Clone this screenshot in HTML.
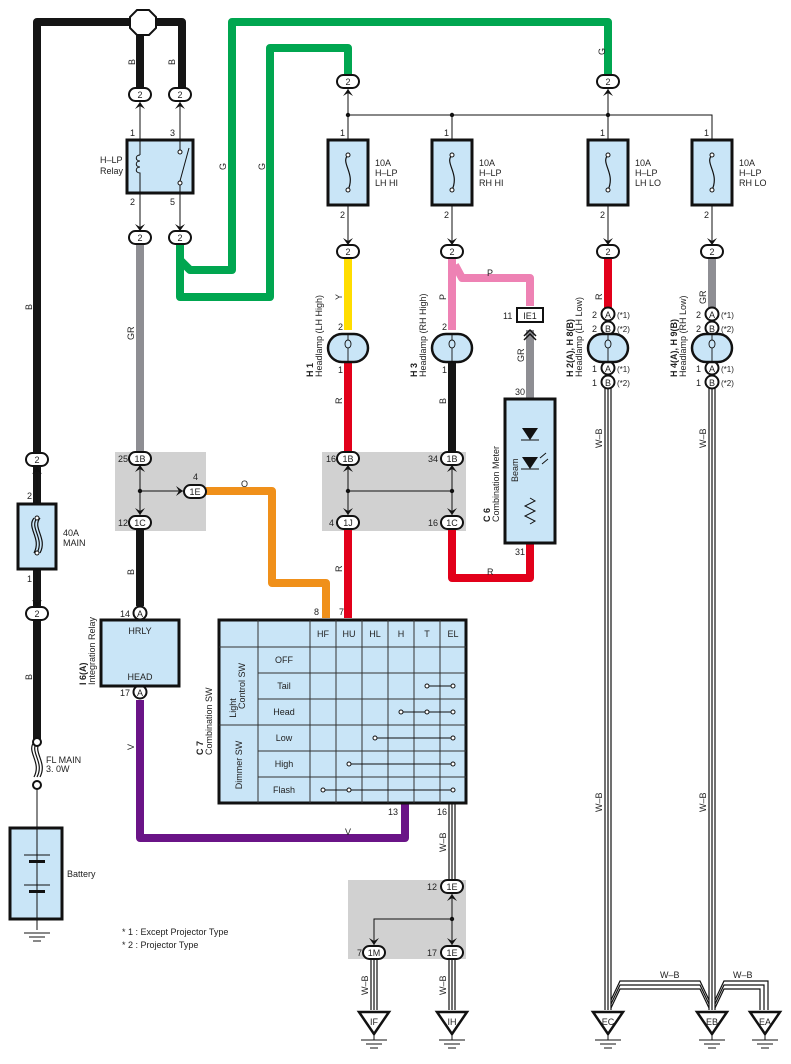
<!DOCTYPE html>
<html><head><meta charset="utf-8"><style>
html,body{margin:0;padding:0;background:#fff}
svg{display:block;font-family:"Liberation Sans",sans-serif}
text{font-size:9px;fill:#222}
.p{fill:#fff;stroke:#111;stroke-width:2}
.bx{fill:#c9e5f7;stroke:#111;stroke-width:3}
.t{fill:none;stroke:#111;stroke-width:1}
.g{fill:#d1d1d1}
</style></head><body>
<svg width="791" height="1064" viewBox="0 0 791 1064" xmlns="http://www.w3.org/2000/svg">
<!-- gray junction boxes -->
<rect class="g" x="115" y="452" width="91" height="79"/>
<rect class="g" x="322" y="452" width="144" height="79"/>
<rect class="g" x="348" y="880" width="118" height="79"/>

<!-- thick wires -->
<g fill="none" stroke-linejoin="round" stroke-width="8">
<path d="M37 740 V22 H182 V88" stroke="#151515"/>
<path d="M140 22 V88" stroke="#151515"/>
<path d="M180 245 V260 L190 270 H232 V22 H608 V75" stroke="#00a650"/>
<path d="M180 260 V297 H270 V48 H348 V75" stroke="#00a650"/>
<path d="M140 245 V452" stroke="#8e8e93"/>
<path d="M140 530 V606" stroke="#151515"/>
<path d="M206 491 H272 V583 H326 V618" stroke="#f0901a"/>
<path d="M348 258 V330" stroke="#ffdd00"/>
<path d="M348 362 V452 M348 530 V618" stroke="#e2001a"/>
<path d="M452 258 V330" stroke="#ee82b4"/>
<path d="M455 265 L462 278 H530 V306" stroke="#ee82b4"/>
<path d="M452 362 V452" stroke="#151515"/>
<path d="M530 330 V398" stroke="#8e8e93"/>
<path d="M530 543 V578 H452 V530" stroke="#e2001a"/>
<path d="M608 258 V308" stroke="#e2001a"/>
<path d="M712 258 V308" stroke="#8e8e93"/>
<path d="M140 700 V838 H405 V803" stroke="#6a1487"/>
<path d="M37 620 V740" stroke="#151515"/>
</g>

<!-- W-B triple wires -->
<g fill="none" stroke="#111" stroke-width="1.2">
<path d="M605 388 V1010 M608 388 V1010 M611 388 V1010"/>
<path d="M709 388 V1010 M712 388 V1010 M715 388 V1010"/>
<path d="M449 803 V880 M452 803 V880 M455 803 V880"/>
<path d="M371 959 V1010 M374 959 V1010 M377 959 V1010"/>
<path d="M449 959 V1010 M452 959 V1010 M455 959 V1010"/>
<path d="M611 1000 L620 981 H700 L709 1000"/>
<path d="M611 1004 L620 985 H700 L709 1004"/>
<path d="M611 1008 L620 989 H700 L709 1008"/>
<path d="M715 1000 L724 981 H768 V1010"/>
<path d="M715 1004 L724 985 H764 V1010"/>
<path d="M715 1008 L724 989 H760 V1010"/>
</g>

<!-- thin lines -->
<g class="t">
<path d="M140 100 V238 M180 100 V238"/>
<path d="M348 88 V245 M348 115 H712 V245 M452 115 V245 M608 88 V245"/>
<path d="M37 466 V608"/>
<path d="M140 464 V516 M140 491 H188"/>
<path d="M348 464 V516 M452 464 V516 M348 491 H452"/>
<path d="M452 893 V946 M452 919 H374 V946"/>
<path d="M37 785 V827"/>
<path d="M530 400 V541"/>
</g>
<g fill="#111">
<circle cx="348" cy="115" r="2.2"/><circle cx="608" cy="115" r="2.2"/><circle cx="452" cy="115" r="2.2"/>
<circle cx="140" cy="491" r="2.2"/><circle cx="348" cy="491" r="2.2"/><circle cx="452" cy="491" r="2.2"/><circle cx="452" cy="919" r="2.2"/>
<!-- chevrons up -->
<path d="M140 102 l5 7 -5 -3 -5 3z M180 102 l5 7 -5 -3 -5 3z M348 89 l5 7 -5 -3 -5 3z M608 89 l5 7 -5 -3 -5 3z M37 467 l5 7 -5 -3 -5 3z M140 465 l5 7 -5 -3 -5 3z M348 465 l5 7 -5 -3 -5 3z M452 465 l5 7 -5 -3 -5 3z M452 894 l5 7 -5 -3 -5 3z"/>
<!-- chevrons down -->
<path d="M140 231 l5 -7 -5 3 -5 -3z M180 231 l5 -7 -5 3 -5 -3z M348 245 l5 -7 -5 3 -5 -3z M452 245 l5 -7 -5 3 -5 -3z M608 245 l5 -7 -5 3 -5 -3z M712 245 l5 -7 -5 3 -5 -3z M37 607 l5 -7 -5 3 -5 -3z M140 515 l5 -7 -5 3 -5 -3z M348 515 l5 -7 -5 3 -5 -3z M452 515 l5 -7 -5 3 -5 -3z M374 945 l5 -7 -5 3 -5 -3z M452 945 l5 -7 -5 3 -5 -3z"/>
<path d="M183 491 l-7 5 3 -5 -3 -5z"/>
</g>
<path d="M524 336 l6 -6 6 6 M524 340 l6 -6 6 6" fill="none" stroke="#111" stroke-width="1.5"/>

<!-- octagon -->
<polygon points="137,10 149,10 156,17 156,28 149,35 137,35 130,28 130,17" fill="#fff" stroke="#111" stroke-width="2"/>

<!-- pill connectors -->
<g class="p">
<rect x="129" y="88" width="22" height="13" rx="6.5"/><rect x="169" y="88" width="22" height="13" rx="6.5"/>
<rect x="337" y="75" width="22" height="13" rx="6.5"/><rect x="597" y="75" width="22" height="13" rx="6.5"/>
<rect x="129" y="231" width="22" height="13" rx="6.5"/><rect x="169" y="231" width="22" height="13" rx="6.5"/>
<rect x="337" y="245" width="22" height="13" rx="6.5"/><rect x="441" y="245" width="22" height="13" rx="6.5"/>
<rect x="597" y="245" width="22" height="13" rx="6.5"/><rect x="701" y="245" width="22" height="13" rx="6.5"/>
<rect x="26" y="453" width="22" height="13" rx="6.5"/><rect x="26" y="607" width="22" height="13" rx="6.5"/>
<rect x="129" y="452" width="22" height="13" rx="6.5"/><rect x="129" y="516" width="22" height="13" rx="6.5"/>
<rect x="184" y="485" width="22" height="13" rx="6.5"/>
<rect x="337" y="452" width="22" height="13" rx="6.5"/><rect x="441" y="452" width="22" height="13" rx="6.5"/>
<rect x="337" y="516" width="22" height="13" rx="6.5"/><rect x="441" y="516" width="22" height="13" rx="6.5"/>
<rect x="441" y="880" width="22" height="13" rx="6.5"/><rect x="441" y="946" width="22" height="13" rx="6.5"/>
<rect x="363" y="946" width="22" height="13" rx="6.5"/>
<circle cx="140" cy="613" r="6.5"/><circle cx="140" cy="692" r="6.5"/>
<circle cx="608" cy="314" r="6.5"/><circle cx="608" cy="328" r="6.5"/><circle cx="608" cy="368" r="6.5"/><circle cx="608" cy="382" r="6.5"/>
<circle cx="712" cy="314" r="6.5"/><circle cx="712" cy="328" r="6.5"/><circle cx="712" cy="368" r="6.5"/><circle cx="712" cy="382" r="6.5"/>
</g>
<rect x="517" y="308" width="26" height="14" fill="#fff" stroke="#111" stroke-width="2"/>
<g text-anchor="middle" style="font-size:10px">
<text x="140" y="98">2</text><text x="180" y="98">2</text><text x="348" y="85">2</text><text x="608" y="85">2</text>
<text x="140" y="241">2</text><text x="180" y="241">2</text><text x="348" y="255">2</text><text x="452" y="255">2</text>
<text x="608" y="255">2</text><text x="712" y="255">2</text><text x="37" y="463">2</text><text x="37" y="617">2</text>
<text x="140" y="462">1B</text><text x="140" y="526">1C</text><text x="195" y="495">1E</text>
<text x="348" y="462">1B</text><text x="452" y="462">1B</text><text x="348" y="526">1J</text><text x="452" y="526">1C</text>
<text x="452" y="890">1E</text><text x="452" y="956">1E</text><text x="374" y="956">1M</text>
<text x="140" y="617">A</text><text x="140" y="696">A</text>
<text x="608" y="318">A</text><text x="608" y="332">B</text><text x="608" y="372">A</text><text x="608" y="386">B</text>
<text x="712" y="318">A</text><text x="712" y="332">B</text><text x="712" y="372">A</text><text x="712" y="386">B</text>
<text x="530" y="319">IE1</text>
</g>

<!-- relay -->
<rect class="bx" x="127" y="140" width="66" height="53"/>
<path d="M140 140 V155 M140 178 V193 M180 140 V150 M180 183 V193" class="t"/>
<path d="M140 155 c-5 0 -5 6 0 6 c-5 0 -5 6 0 6 c-5 0 -5 6 0 6 v5" fill="none" stroke="#111"/>
<circle cx="180" cy="152" r="2" fill="#fff" stroke="#111"/><circle cx="180" cy="183" r="2" fill="#fff" stroke="#111"/>
<path d="M180 181 L189 148" class="t"/>
<text x="100" y="163">H–LP</text><text x="100" y="174">Relay</text>
<text x="130" y="136">1</text><text x="170" y="136">3</text><text x="130" y="205">2</text><text x="170" y="205">5</text>

<!-- fuses -->
<g>
<rect class="bx" x="328" y="140" width="40" height="65"/>
<rect class="bx" x="432" y="140" width="40" height="65"/>
<rect class="bx" x="588" y="140" width="40" height="65"/>
<rect class="bx" x="692" y="140" width="40" height="65"/>
<rect class="bx" x="18" y="504" width="38" height="65"/>
</g>
<g fill="none" stroke="#111" stroke-width="1.2">
<path d="M348 155 c-8 8 8 18 0 35 M452 155 c-8 8 8 18 0 35 M608 155 c-8 8 8 18 0 35 M712 155 c-8 8 8 18 0 35"/>
<path d="M37 518 c-8 10 8 20 0 35 M34 518 c-8 10 8 20 0 35 M40 518 c-8 10 8 20 0 35"/>
<path d="M37 742 c-8 10 8 20 0 35 M34 742 c-8 10 8 20 0 35 M40 742 c-8 10 8 20 0 35"/>
</g>
<g fill="#fff" stroke="#111">
<circle cx="348" cy="155" r="2"/><circle cx="348" cy="190" r="2"/><circle cx="452" cy="155" r="2"/><circle cx="452" cy="190" r="2"/>
<circle cx="608" cy="155" r="2"/><circle cx="608" cy="190" r="2"/><circle cx="712" cy="155" r="2"/><circle cx="712" cy="190" r="2"/>
<circle cx="37" cy="518" r="2"/><circle cx="37" cy="553" r="2"/>
<circle cx="37" cy="742" r="4" stroke-width="2"/><circle cx="37" cy="785" r="4" stroke-width="2"/>
</g>
<g>
<text x="340" y="136">1</text><text x="340" y="218">2</text><text x="444" y="136">1</text><text x="444" y="218">2</text>
<text x="600" y="136">1</text><text x="600" y="218">2</text><text x="704" y="136">1</text><text x="704" y="218">2</text>
<text x="375" y="166">10A</text><text x="375" y="176">H–LP</text><text x="375" y="186">LH HI</text>
<text x="479" y="166">10A</text><text x="479" y="176">H–LP</text><text x="479" y="186">RH HI</text>
<text x="635" y="166">10A</text><text x="635" y="176">H–LP</text><text x="635" y="186">LH LO</text>
<text x="739" y="166">10A</text><text x="739" y="176">H–LP</text><text x="739" y="186">RH LO</text>
<text x="63" y="536">40A</text><text x="63" y="546">MAIN</text>
<text x="27" y="499">2</text><text x="27" y="582">1</text>
<text x="46" y="763">FL MAIN</text><text x="46" y="772">3. 0W</text>
</g>

<!-- headlamps -->
<g class="bx" style="stroke-width:2.5">
<rect x="328" y="334" width="40" height="28" rx="14"/><rect x="432" y="334" width="40" height="28" rx="14"/>
<rect x="588" y="334" width="40" height="28" rx="14"/><rect x="692" y="334" width="40" height="28" rx="14"/>
</g>
<g fill="none" stroke="#111" stroke-width="0.9">
<path d="M348 334 v6 c-4 0 -4 8 0 8 c4 0 4 -8 0 -8 M348 348 v14"/>
<path d="M452 334 v6 c-4 0 -4 8 0 8 c4 0 4 -8 0 -8 M452 348 v14"/>
<path d="M608 334 v6 c-4 0 -4 8 0 8 c4 0 4 -8 0 -8 M608 348 v14"/>
<path d="M712 334 v6 c-4 0 -4 8 0 8 c4 0 4 -8 0 -8 M712 348 v14"/>
</g>
<g>
<text x="338" y="330">2</text><text x="338" y="373">1</text><text x="442" y="330">2</text><text x="442" y="373">1</text>
<text x="592" y="318">2</text><text x="592" y="332">2</text><text x="592" y="372">1</text><text x="592" y="386">1</text>
<text x="696" y="318">2</text><text x="696" y="332">2</text><text x="696" y="372">1</text><text x="696" y="386">1</text>
<text x="617" y="318" style="font-size:8px">(*1)</text><text x="617" y="332" style="font-size:8px">(*2)</text>
<text x="617" y="372" style="font-size:8px">(*1)</text><text x="617" y="386" style="font-size:8px">(*2)</text>
<text x="721" y="318" style="font-size:8px">(*1)</text><text x="721" y="332" style="font-size:8px">(*2)</text>
<text x="721" y="372" style="font-size:8px">(*1)</text><text x="721" y="386" style="font-size:8px">(*2)</text>
<text x="503" y="319">11</text><text x="515" y="395">30</text><text x="515" y="555">31</text>
<text x="118" y="462">25</text><text x="118" y="526">12</text><text x="193" y="480">4</text>
<text x="326" y="462">16</text><text x="428" y="462">34</text><text x="329" y="526">4</text><text x="428" y="526">16</text>
<text x="120" y="617">14</text><text x="120" y="696">17</text>
<text x="314" y="615">8</text><text x="339" y="615">7</text><text x="388" y="815">13</text><text x="437" y="815">16</text>
<text x="427" y="890">12</text><text x="357" y="956">7</text><text x="427" y="956">17</text>
</g>

<!-- combination meter -->
<rect class="bx" x="505" y="399" width="50" height="144"/>
<g fill="#111"><path d="M522 428 h16 l-8 12z M522 457 h16 l-8 12z"/></g>
<path d="M521 440 h18 M521 469 h18 M530 498 l5 3 -10 5 10 5 -10 5 10 5 -5 3" fill="none" stroke="#111"/>
<path d="M540 458 l6 -5 M542 464 l6 -5" stroke="#111" fill="none"/>
<text transform="translate(518 482) rotate(-90)">Beam</text>

<!-- integration relay -->
<rect class="bx" x="101" y="620" width="78" height="66"/>
<text x="140" y="634" text-anchor="middle">HRLY</text><text x="140" y="680" text-anchor="middle">HEAD</text>

<!-- C7 table -->
<rect class="bx" x="219" y="620" width="247" height="183"/>
<g stroke="#333" stroke-width="1" fill="none">
<path d="M258 620 V803 M310 620 V803 M336 620 V803 M362 620 V803 M388 620 V803 M414 620 V803 M440 620 V803"/>
<path d="M219 647 H466 M258 673 H466 M258 699 H466 M219 725 H466 M258 751 H466 M258 777 H466"/>
</g>
<g text-anchor="middle">
<text x="323" y="637">HF</text><text x="349" y="637">HU</text><text x="375" y="637">HL</text><text x="401" y="637">H</text><text x="427" y="637">T</text><text x="453" y="637">EL</text>
<text x="284" y="663">OFF</text><text x="284" y="689">Tail</text><text x="284" y="715">Head</text>
<text x="284" y="741">Low</text><text x="284" y="767">High</text><text x="284" y="793">Flash</text>
</g>
<g fill="none" stroke="#111">
<path d="M427 686 H453 M401 712 H453 M375 738 H453 M349 764 H453 M323 790 H453"/>
</g>
<g fill="#fff" stroke="#111">
<circle cx="427" cy="686" r="2"/><circle cx="453" cy="686" r="2"/>
<circle cx="401" cy="712" r="2"/><circle cx="427" cy="712" r="2"/><circle cx="453" cy="712" r="2"/>
<circle cx="375" cy="738" r="2"/><circle cx="453" cy="738" r="2"/>
<circle cx="349" cy="764" r="2"/><circle cx="453" cy="764" r="2"/>
<circle cx="323" cy="790" r="2"/><circle cx="349" cy="790" r="2"/><circle cx="453" cy="790" r="2"/>
</g>
<text transform="translate(236 708) rotate(-90)" text-anchor="middle">Light</text>
<text transform="translate(245 686) rotate(-90)" text-anchor="middle">Control SW</text>
<text transform="translate(242 765) rotate(-90)" text-anchor="middle">Dimmer SW</text>

<!-- battery -->
<rect class="bx" x="10" y="828" width="52" height="91"/>
<path d="M37 828 V860 M37 878 V919 M24 855 H50 M24 885 H50 M37 866 V872" stroke="#111" fill="none"/>
<rect x="29" y="860" width="16" height="3" fill="#111"/><rect x="29" y="890" width="16" height="3" fill="#111"/>
<path d="M37 860 V866 M37 872 V878 M37 893 V930" stroke="#111"/>
<text x="67" y="877">Battery</text>

<!-- grounds -->
<g fill="#fff" stroke="#111" stroke-width="2.5">
<path d="M359 1012 H389 L374 1034z"/><path d="M437 1012 H467 L452 1034z"/>
<path d="M593 1012 H623 L608 1034z"/><path d="M697 1012 H727 L712 1034z"/><path d="M750 1012 H780 L765 1034z"/>
</g>
<g stroke="#111" fill="none">
<path d="M374 1034 v6 M361 1040 h26 M366 1044 h16 M370 1048 h8"/>
<path d="M452 1034 v6 M439 1040 h26 M444 1044 h16 M448 1048 h8"/>
<path d="M608 1034 v6 M595 1040 h26 M600 1044 h16 M604 1048 h8"/>
<path d="M712 1034 v6 M699 1040 h26 M704 1044 h16 M708 1048 h8"/>
<path d="M765 1034 v6 M752 1040 h26 M757 1044 h16 M761 1048 h8"/>
<path d="M37 930 v0 M24 933 h26 M29 937 h16 M33 941 h8"/>
</g>
<g text-anchor="middle" style="font-size:9px">
<text x="374" y="1025">IF</text><text x="452" y="1025">IH</text><text x="608" y="1025">EC</text><text x="712" y="1025">EB</text><text x="765" y="1025">EA</text>
</g>

<!-- wire color labels -->
<g>
<text x="660" y="978">W–B</text><text x="733" y="978">W–B</text>
<text x="241" y="487">O</text><text x="487" y="276">P</text><text x="487" y="575">R</text><text x="345" y="835">V</text>
</g>
<g style="font-size:9px">
<text transform="translate(135 65) rotate(-90)">B</text><text transform="translate(175 65) rotate(-90)">B</text>
<text transform="translate(605 55) rotate(-90)">G</text>
<text transform="translate(226 170) rotate(-90)">G</text><text transform="translate(265 170) rotate(-90)">G</text>
<text transform="translate(32 310) rotate(-90)">B</text><text transform="translate(32 680) rotate(-90)">B</text>
<text transform="translate(134 340) rotate(-90)">GR</text><text transform="translate(134 575) rotate(-90)">B</text>
<text transform="translate(342 300) rotate(-90)">Y</text><text transform="translate(342 404) rotate(-90)">R</text><text transform="translate(342 572) rotate(-90)">R</text>
<text transform="translate(446 300) rotate(-90)">P</text><text transform="translate(446 404) rotate(-90)">B</text>
<text transform="translate(524 362) rotate(-90)">GR</text>
<text transform="translate(602 300) rotate(-90)">R</text><text transform="translate(706 304) rotate(-90)">GR</text>
<text transform="translate(602 448) rotate(-90)">W–B</text><text transform="translate(706 448) rotate(-90)">W–B</text>
<text transform="translate(602 812) rotate(-90)">W–B</text><text transform="translate(706 812) rotate(-90)">W–B</text>
<text transform="translate(446 852) rotate(-90)">W–B</text>
<text transform="translate(368 995) rotate(-90)">W–B</text><text transform="translate(446 995) rotate(-90)">W–B</text>
<text transform="translate(134 750) rotate(-90)">V</text>
</g>
<!-- component vertical labels -->
<g style="font-size:9px">
<text transform="translate(313 377) rotate(-90)" style="font-weight:bold">H 1</text>
<text transform="translate(322 377) rotate(-90)">Headlamp (LH High)</text>
<text transform="translate(417 377) rotate(-90)" style="font-weight:bold">H 3</text>
<text transform="translate(426 377) rotate(-90)">Headlamp (RH High)</text>
<text transform="translate(573 377) rotate(-90)" style="font-weight:bold">H 2(A), H 8(B)</text>
<text transform="translate(582 377) rotate(-90)">Headlamp (LH Low)</text>
<text transform="translate(677 377) rotate(-90)" style="font-weight:bold">H 4(A), H 9(B)</text>
<text transform="translate(686 377) rotate(-90)">Headlamp (RH Low)</text>
<text transform="translate(490 522) rotate(-90)" style="font-weight:bold">C 6</text>
<text transform="translate(499 522) rotate(-90)">Combination Meter</text>
<text transform="translate(86 685) rotate(-90)" style="font-weight:bold">I 6(A)</text>
<text transform="translate(95 685) rotate(-90)">Integration Relay</text>
<text transform="translate(203 755) rotate(-90)" style="font-weight:bold">C 7</text>
<text transform="translate(212 755) rotate(-90)">Combination SW</text>
</g>
<text x="122" y="935">* 1 : Except Projector Type</text>
<text x="122" y="948">* 2 : Projector Type</text>
</svg>
</body></html>
